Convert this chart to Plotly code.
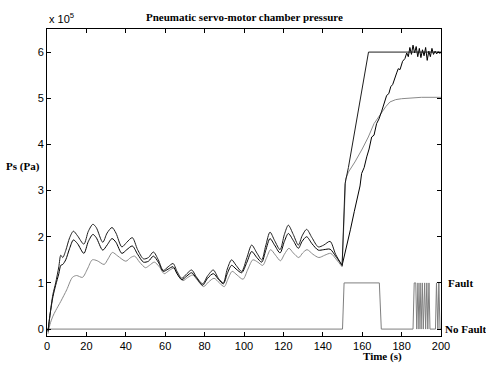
import plotly.graph_objects as go

# ---- data (pressure in units of 1e5 Pa, time in s) ----
# curve A (upper dark curve), oscillating part
t_a_osc = [0.5, 1.5, 3, 4.4, 6, 7, 8, 9.5, 11.5, 13.4, 15.5, 18.7, 21, 23.3, 25, 28.3, 30.5, 33, 35, 38,
           40.5, 43.3, 46, 49, 51.5, 54, 56.5, 59, 61.5, 64, 66, 68.4, 71, 73.4, 76, 79, 81.5, 84.4, 87, 89.5,
           91.5, 93.7, 96, 98.8, 101.5, 103.9, 106.5, 109, 111, 113.2, 115.5, 118.3, 120.5, 122.5, 125, 127.6,
           129.5, 131.8, 134.5, 137.7, 140.5, 143.7, 146.5, 149.8]
p_a_osc = [-0.05, 0.3, 0.75, 1.0, 1.35, 1.6, 1.55, 1.7, 1.98, 2.12, 2.02, 1.84, 2.12, 2.27, 2.2, 1.88, 2.08, 2.2, 2.08, 1.78,
           1.88, 1.98, 1.72, 1.52, 1.55, 1.67, 1.5, 1.27, 1.35, 1.42, 1.25, 1.1, 1.2, 1.28, 1.12, 0.98, 1.15, 1.28, 1.1, 1.0,
           1.3, 1.5, 1.38, 1.25, 1.55, 1.82, 1.65, 1.5, 1.8, 2.1, 1.92, 1.72, 2.05, 2.25, 2.05, 1.82,
           2.02, 2.16, 1.98, 1.78, 1.82, 1.9, 1.62, 1.38]
t_a_rise = [149.8, 150.6, 151.3, 153, 163.2, 200]
p_a_rise = [1.38, 2.4, 3.15, 3.5, 6.0, 6.0]

# curve B (middle black curve, noisy after fault)
p_b_osc = [-0.05, 0.3, 0.7, 0.95, 1.2, 1.38, 1.4, 1.5, 1.75, 1.93, 1.85, 1.64, 1.9, 2.05, 1.98, 1.71, 1.82, 1.96, 1.88, 1.64,
           1.72, 1.8, 1.62, 1.45, 1.47, 1.58, 1.45, 1.25, 1.3, 1.35, 1.2, 1.07, 1.15, 1.22, 1.1, 0.95, 1.1, 1.2, 1.08, 0.98,
           1.2, 1.38, 1.3, 1.22, 1.45, 1.68, 1.55, 1.45, 1.7, 1.96, 1.82, 1.65, 1.9, 2.07, 1.92, 1.75,
           1.9, 2.0, 1.85, 1.71, 1.72, 1.73, 1.58, 1.38]
t_b_rise = [149.8, 152, 154, 156, 158, 158.9, 159.7, 161, 162.3, 163.5, 164.8, 166, 167.3, 168.5, 169.9, 171,
            172.4, 173.5, 174.5, 175.5, 176.6, 177.5, 178.3, 179.2, 180.5, 181.7,
            182.6, 183.4, 184.2, 185, 185.8, 186.6, 187.4, 188.2, 189, 189.8, 190.6, 191.4, 192.2, 193,
            193.8, 194.6, 195.4, 196.2, 197, 197.8, 198.6, 199.4, 200]
p_b_rise = [1.38, 1.75, 2.15, 2.55, 2.95, 3.1, 3.37, 3.5, 3.73, 3.9, 4.16, 4.2, 4.45, 4.55, 4.72, 4.85,
            5.06, 5.1, 5.25, 5.3, 5.46, 5.55, 5.64, 5.62, 5.8, 5.86,
            5.98, 5.9, 6.1, 5.95, 6.15, 5.98, 6.12, 5.9, 6.08, 5.88, 6.05, 5.92, 6.1, 5.82,
            6.02, 5.9, 6.08, 5.95, 6.02, 5.96, 6.01, 5.97, 6.0]

# curve C (gray curve)
t_c_osc = [0.5, 1.5, 3, 4.4, 7, 10, 12.9, 15, 18, 20.5, 23, 25.5, 29, 31, 33.2, 36, 40, 42.5, 44.5, 47,
           50, 52, 54.5, 57, 59.5, 62, 64.5, 66.5, 69, 71.5, 74, 76.5, 79.5, 82, 84.8, 87.5, 90, 92, 94, 96.5,
           99.5, 102, 104.5, 107, 109.5, 111.5, 113.5, 116, 118.5, 120.5, 122.8, 125, 127.8, 129.8, 132, 135,
           138, 141, 144, 147, 149.8]
p_c_osc = [-0.1, 0.1, 0.28, 0.4, 0.6, 0.85, 1.12, 1.16, 1.12, 1.3, 1.5, 1.48, 1.4, 1.52, 1.66, 1.58, 1.47, 1.55, 1.58, 1.45,
           1.33, 1.38, 1.45, 1.35, 1.2, 1.27, 1.32, 1.17, 1.05, 1.12, 1.17, 1.05, 0.92, 1.02, 1.1, 1.0, 0.92, 1.1, 1.25, 1.17,
           1.08, 1.3, 1.5, 1.45, 1.38, 1.55, 1.72, 1.6, 1.48, 1.62, 1.75, 1.65, 1.55, 1.65, 1.72, 1.62,
           1.55, 1.6, 1.64, 1.5, 1.35]
t_c_rise = [149.8, 150.8, 151.6, 153, 156.3, 160, 163.1, 166, 169.9, 172, 174.1, 177, 180, 185, 190, 200]
p_c_rise = [1.35, 2.5, 3.25, 3.4, 3.62, 3.9, 4.16, 4.45, 4.7, 4.82, 4.92, 4.97, 4.99, 5.01, 5.02, 5.02]

# fault indicator (0 = No Fault, 1 = Fault, drawn at 1e5 Pa)
t_fault = [0, 150, 150.8, 168.7, 169.7, 185.8, 186.4, 187.2, 187.7, 188.3, 188.8, 189.4, 189.9, 190.5, 191.0,
           191.7, 192.2, 192.8, 193.3, 193.9, 194.4, 197.2, 197.7, 198.4, 198.9, 199.5, 200]
fault = [0, 0, 1, 1, 0, 0, 1, 1, 0, 1, 0, 1, 0, 1, 0, 1, 0, 1, 0, 1, 0, 0, 1, 0, 1, 0, 0]

x_ticks = [0, 20, 40, 60, 80, 100, 120, 140, 160, 180, 200]
y_ticks = [0, 1, 2, 3, 4, 5, 6]

# ---- figure ----
C_A = "#1e1e1e"
C_B = "#000000"
C_C = "#8a8a8a"
C_F = "#7f7f7f"

fig = go.Figure()
fig.add_trace(go.Scatter(x=t_fault, y=fault, mode="lines", line=dict(color=C_F, width=1)))
fig.add_trace(go.Scatter(x=t_c_osc, y=p_c_osc, mode="lines", line=dict(color=C_C, width=1, shape="spline", smoothing=0.8)))
fig.add_trace(go.Scatter(x=t_c_rise, y=p_c_rise, mode="lines", line=dict(color=C_C, width=1)))
fig.add_trace(go.Scatter(x=t_a_osc, y=p_b_osc, mode="lines", line=dict(color=C_B, width=1, shape="spline", smoothing=0.8)))
fig.add_trace(go.Scatter(x=t_b_rise, y=p_b_rise, mode="lines", line=dict(color=C_B, width=1)))
fig.add_trace(go.Scatter(x=t_a_osc, y=p_a_osc, mode="lines", line=dict(color=C_A, width=1, shape="spline", smoothing=0.8)))
fig.add_trace(go.Scatter(x=t_a_rise, y=p_a_rise, mode="lines", line=dict(color=C_A, width=1)))

tick_font = dict(family="Liberation Sans, Arial", size=11, color="black")
serif_b = dict(family="Liberation Serif, Times New Roman, serif", size=11, color="black")

axis_common = dict(showgrid=False, zeroline=False, showline=True, linecolor="black", linewidth=1,
                   mirror="ticks", ticks="inside", ticklen=4, tickcolor="black", tickwidth=1,
                   tickfont=tick_font)

fig.update_layout(
    width=486, height=368,
    margin=dict(l=47, r=45, t=29, b=32),
    paper_bgcolor="white", plot_bgcolor="white",
    showlegend=False,
    xaxis=dict(range=[0, 200], tickvals=x_ticks, ticktext=[str(v) for v in x_ticks], **axis_common),
    yaxis=dict(range=[-0.15, 6.5], tickvals=y_ticks, ticktext=[str(v) for v in y_ticks], **axis_common),
)

ann = [
    dict(text="<b>Pneumatic servo-motor chamber pressure</b>", x=0.5, y=1 + 12 / 307, xref="paper", yref="paper",
         xanchor="center", yanchor="middle", showarrow=False, font=serif_b),
    dict(text="x 10<sup>5</sup>", x=0, y=1 + 11 / 307, xref="paper", yref="paper",
         xanchor="left", yanchor="middle", showarrow=False, font=tick_font),
    dict(text="<b>Ps (Pa)</b>", x=(23 - 47) / 394, y=(336 - 166) / 307, xref="paper", yref="paper",
         xanchor="center", yanchor="middle", showarrow=False, font=serif_b),
    dict(text="<b>Time (s)</b>", x=(382 - 47) / 394, y=(336 - 356) / 307, xref="paper", yref="paper",
         xanchor="center", yanchor="middle", showarrow=False, font=serif_b),
    dict(text="<b>Fault</b>", x=(446 - 47) / 394, y=1, xref="paper", yref="y",
         xanchor="left", yanchor="middle", showarrow=False, font=serif_b),
    dict(text="<b>No Fault</b>", x=(443 - 47) / 394, y=0, xref="paper", yref="y",
         xanchor="left", yanchor="middle", showarrow=False, font=serif_b),
]
fig.update_layout(annotations=ann)

fig.write_html("out.html", config={"displayModeBar": False})

# remove the browser's default page margin so the figure sits at the window origin
with open("out.html", "r", encoding="utf-8") as fh:
    html = fh.read()
html = html.replace("<head>", "<head><style>html,body{margin:0;padding:0;overflow:hidden;}</style>", 1)
with open("out.html", "w", encoding="utf-8") as fh:
    fh.write(html)
